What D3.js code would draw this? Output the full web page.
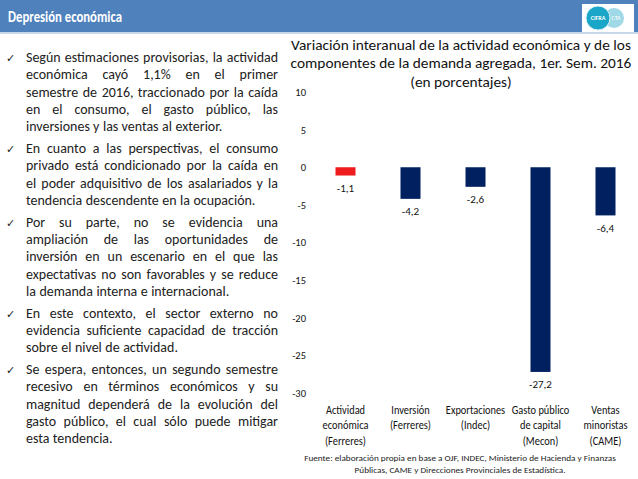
<!DOCTYPE html>
<html>
<head>
<meta charset="utf-8">
<script src="https://cdn.jsdelivr.net/npm/d3@7"></script>
<style>
  body { margin: 0; background: #fff; }
  svg { display: block; font-family: Carlito, Lato, "Open Sans", sans-serif; }
</style>
</head>
<body>
<svg id="slide" width="638" height="479"></svg>
<script>
// chart data
var categories = [
  ["Actividad", "económica", "(Ferreres)"],
  ["Inversión", "(Ferreres)"],
  ["Exportaciones", "(Indec)"],
  ["Gasto público", "de capital", "(Mecon)"],
  ["Ventas", "minoristas", "(CAME)"]
];
var values = [-1.1, -4.2, -2.6, -27.2, -6.4];
var yTicks = [10, 5, 0, -5, -10, -15, -20, -25, -30];
var chartTitle = [
  "Variación interanual de la actividad económica y de los",
  "componentes de la demanda agregada, 1er. Sem. 2016",
  "(en porcentajes)"
];
var source = [
  "Fuente: elaboración propia en base a OJF, INDEC, Ministerio de Hacienda y Finanzas",
  "Públicas, CAME y Direcciones Provinciales de Estadística."
];

// slide text, one array per bullet, one string per line
var bullets = [
  ["Según estimaciones provisorias, la actividad",
   "económica cayó 1,1% en el primer",
   "semestre de 2016, traccionado por la caída",
   "en el consumo, el gasto público, las",
   "inversiones y las ventas al exterior."],
  ["En cuanto a las perspectivas, el consumo",
   "privado está condicionado por la caída en",
   "el poder adquisitivo de los asalariados y la",
   "tendencia descendente en la ocupación."],
  ["Por su parte, no se evidencia una",
   "ampliación de las oportunidades de",
   "inversión en un escenario en el que las",
   "expectativas no son favorables y se reduce",
   "la demanda interna e internacional."],
  ["En este contexto, el sector externo no",
   "evidencia suficiente capacidad de tracción",
   "sobre el nivel de actividad."],
  ["Se espera, entonces, un segundo semestre",
   "recesivo en términos económicos y su",
   "magnitud dependerá de la evolución del",
   "gasto público, el cual sólo puede mitigar",
   "esta tendencia."]
];

var svg = d3.select("#slide");
var dash = function(s) { return s.replace("−", "-").replace(".", ","); };

// squeeze a group horizontally (Calibri is narrower than Lato) so its widest text is w px
function squeeze(g, cx, w) {
  var widest = 0;
  g.selectAll("text").each(function() {
    widest = Math.max(widest, this.getBBox().width);
  });
  g.attr("transform", "translate(" + cx + ",0) scale(" + (w / widest) + ",1)");
}

// header bar
svg.append("rect").attr("x", 0).attr("y", 0).attr("width", 638).attr("height", 32)
  .attr("fill", "#4f81bd");
svg.append("rect").attr("x", 0).attr("y", 32).attr("width", 638).attr("height", 2)
  .attr("fill", "#c9d7ea");
var headG = svg.append("g");
headG.append("text").attr("x", 0).attr("y", 22)
  .attr("fill", "#fff").attr("font-size", 15).attr("font-weight", "bold")
  .text("Depresión económica");
squeeze(headG, 8, 114);

// logo
var logo = svg.append("g");
logo.append("rect").attr("x", 582).attr("y", 4).attr("width", 52).attr("height", 28)
  .attr("fill", "#fff");
logo.append("circle").attr("cx", 614).attr("cy", 18).attr("r", 10).attr("fill", "#9fd8e6");
logo.append("circle").attr("cx", 598).attr("cy", 18).attr("r", 12).attr("fill", "#1aa6c8")
  .attr("stroke", "#dff2f7").attr("stroke-width", 1);
logo.append("text").attr("x", 598).attr("y", 20).attr("text-anchor", "middle")
  .attr("fill", "#fff").attr("font-size", 6).attr("font-weight", "bold").text("CIFRA");
logo.append("text").attr("x", 616).attr("y", 20).attr("text-anchor", "middle")
  .attr("fill", "#fff").attr("font-size", 6).text("CTA");

// bullet text, justified by hand
var textLeft = 26, textRight = 278, lineStep = 17.3, paraGap = 4.5;
var body = svg.append("g").attr("font-size", 13).attr("fill", "#222");

// pick the font size so the widest natural line nearly fills the column
var probe = body.append("text").attr("font-size", 13);
var widest = d3.max(d3.merge(bullets), function(l) {
  probe.text(l);
  return probe.node().getComputedTextLength();
});
probe.remove();
var bodySize = 13 * (textRight - textLeft) * 0.985 / widest;
body.attr("font-size", bodySize);

var y = 62;
bullets.forEach(function(lines) {
  body.append("text").attr("x", 6).attr("y", y).attr("font-size", 11)
    .attr("font-family", "DejaVu Sans").text("✓");
  lines.forEach(function(line, i) {
    var words = line.split(" ");
    var t = body.append("text").attr("y", y);
    var spans = words.map(function(w) {
      return t.append("tspan").text(w);
    });
    var widths = spans.map(function(s) { return s.node().getComputedTextLength(); });
    var total = d3.sum(widths);
    var last = i === lines.length - 1;
    var gap = last || words.length < 2 ? bodySize * 0.25 : (textRight - textLeft - total) / (words.length - 1);
    var x = textLeft;
    spans.forEach(function(s, k) {
      s.attr("x", x);
      x += widths[k] + gap;
    });
    y += lineStep;
  });
  y += paraGap;
});

// chart
var x = d3.scaleBand()
  .domain(d3.range(values.length))
  .range([313, 638]);
var yScale = d3.scaleLinear()
  .domain([-30, 10])
  .range([393, 92]);
var barW = 20;

var title = svg.append("g").attr("text-anchor", "middle").attr("fill", "#111");
title.selectAll("text")
  .data(chartTitle)
  .enter().append("text")
    .attr("x", 0)
    .attr("y", function(d, i) { return 50 + i * 18.5; })
    .attr("font-size", 14)
    .text(function(d) { return d; });
squeeze(title, 461, 341);

var yAxis = svg.append("g")
  .attr("transform", "translate(306,0)")
  .call(d3.axisLeft(yScale).tickValues(yTicks).tickSize(0).tickPadding(0)
    .tickFormat(function(d) { return dash(String(d)); }));
yAxis.select(".domain").remove();
yAxis.selectAll("text").attr("font-family", "Carlito, Lato, sans-serif")
  .attr("font-size", 10.5).attr("fill", "#111");

svg.append("g").selectAll("rect")
  .data(values)
  .enter().append("rect")
    .attr("x", function(d, i) { return x(i) + x.bandwidth() / 2 - barW / 2; })
    .attr("y", function(d) { return yScale(Math.max(0, d)); })
    .attr("width", barW)
    .attr("height", function(d) { return Math.abs(yScale(d) - yScale(0)); })
    .attr("fill", function(d, i) { return i === 0 ? "#ee1c1c" : "#002060"; });

svg.append("g").selectAll("text")
  .data(values)
  .enter().append("text")
    .attr("x", function(d, i) { return x(i) + x.bandwidth() / 2; })
    .attr("y", function(d) { return yScale(d) + 16.5; })
    .attr("text-anchor", "middle")
    .attr("font-size", 11).attr("fill", "#111")
    .text(function(d) { return dash(d3.format(".1f")(d)); });

// category labels, a little condensed so neighbours don't touch
var catG = svg.append("g").attr("font-size", 11.8).attr("fill", "#111")
  .attr("text-anchor", "middle");
categories.forEach(function(lines, i) {
  var t = catG.append("text")
    .attr("transform", "translate(" + (x(i) + x.bandwidth() / 2) + ",0) scale(0.88,1)");
  lines.forEach(function(l, k) {
    t.append("tspan").attr("x", 0).attr("y", 414 + k * 15.5).text(l);
  });
});

var src = svg.append("g").attr("text-anchor", "middle").attr("fill", "#222");
src.selectAll("text")
  .data(source)
  .enter().append("text")
    .attr("x", 0)
    .attr("y", function(d, i) { return 461 + i * 12; })
    .attr("font-size", 8.3)
    .text(function(d) { return d; });
squeeze(src, 460, 312);
</script>
</body>
</html>
